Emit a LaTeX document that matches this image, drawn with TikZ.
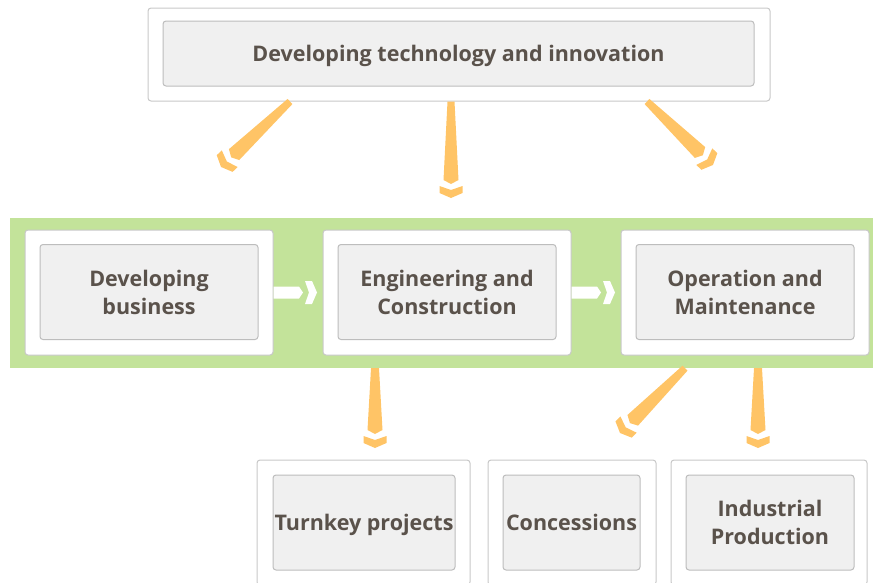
\documentclass[tikz,border=0pt]{standalone}
\usepackage{fontspec}
\setmainfont{Open Sans}
\usepackage{tikz}
\usetikzlibrary{calc}
\definecolor{bandgreen}{HTML}{C3E39A}
\definecolor{arroworange}{HTML}{FFC466}
\definecolor{boxgray}{HTML}{F0F0F0}
\definecolor{edgegray}{HTML}{C8C8C8}
\definecolor{inneredge}{HTML}{BDBDBD}
\definecolor{textbrown}{HTML}{5A524B}
\tikzset{
  outerbox/.style={draw=edgegray, fill=white, rounded corners=3pt, line width=1pt},
  innerbox/.style={draw=inneredge, fill=boxgray, rounded corners=3pt, line width=1pt, inner sep=1pt,
    text depth=0pt, text=textbrown, align=center, font=\bfseries\fontsize{21.5}{28}\selectfont},
}
\newcommand{\flowarrow}[5][arroworange]{
    % Stem that widens towards its pointed end, then the chevron head
    \fill[#1] let \p1=($(#3)-(#2)$), \n1={atan2(\y1,\x1)}, \n2={veclen(\x1,\y1)} in
      [shift={(#2)}, rotate=\n1]
      (0,-#4) -- (\n2-18,-#5) -- (\n2-14,0) -- (\n2-18,#5) -- (0,#4) -- cycle
      (\n2-12,-11.5) -- (\n2-8,0) -- (\n2-12,11.5) -- (\n2-5,11.5) -- (\n2,0) -- (\n2-5,-11.5) -- cycle;
}

\begin{document}
\begin{tikzpicture}[x=1pt, y=-1pt]
  \useasboundingbox (0,0) rectangle (873,582);

  % Draw the top box
  \node[outerbox, minimum width=622, minimum height=93] (techouter) at (459,54.5) {};
  \node[innerbox, minimum width=591, minimum height=65] (tech) at (458.5,53.5) {Developing technology and innovation};

  % Draw the green band with the three stages
  \node[fill=bandgreen, inner sep=0, minimum width=863, minimum height=150] (band) at (441.5,293) {};
  \node[outerbox, minimum width=248, minimum height=125] (devouter) at (149,292.5) {};
  \node[innerbox, minimum width=218, minimum height=95] (dev) at (149,292) {Developing\\business};
  \node[outerbox, minimum width=248, minimum height=125] (engouter) at (447,292.5) {};
  \node[innerbox, minimum width=218, minimum height=95] (eng) at (447,292) {Engineering and\\Construction};
  \node[outerbox, minimum width=248, minimum height=125] (omouter) at (745,292.5) {};
  \node[innerbox, minimum width=218, minimum height=95] (om) at (745,292) {Operation and\\Maintenance};

  % Draw the bottom boxes
  \node[outerbox, minimum width=213, minimum height=125] (turnouter) at (363.5,522.5) {};
  \node[innerbox, minimum width=182, minimum height=95] (turn) at (364,522.5) {Turnkey projects};
  \node[outerbox, minimum width=168, minimum height=125] (concouter) at (572,522.5) {};
  \node[innerbox, minimum width=137, minimum height=95] (conc) at (571.5,522.5) {Concessions};
  \node[outerbox, minimum width=196, minimum height=125] (indouter) at (769,522.5) {};
  \node[innerbox, minimum width=168, minimum height=95] (ind) at (770,522.5) {Industrial\\Production};

  % Arrow tips
  \coordinate (techtipa) at (221,167);
  \coordinate (techtipb) at (451,198);
  \coordinate (techtipc) at (713,165);
  \coordinate (devtip) at (317,292.5);
  \coordinate (engtip) at (615,292.5);
  \coordinate (turntip) at (375,448);
  \coordinate (conctip) at (620,433);
  \coordinate (indtip) at (758,448);

  % Plot the arrows
  \flowarrow{[xshift=-169]techouter.south}{techtipa}{3.5}{7.5}
  \flowarrow{[xshift=-8]techouter.south}{techtipb}{3.5}{7.5}
  \flowarrow{[xshift=188]techouter.south}{techtipc}{3.5}{7.5}
  \flowarrow[white]{devouter.east}{devtip}{6}{6}
  \flowarrow[white]{engouter.east}{engtip}{6}{6}
  \flowarrow{[xshift=-66.5]band.south}{turntip}{4}{7.5}
  \flowarrow{[xshift=243.5]band.south}{conctip}{3.5}{7.5}
  \flowarrow{[xshift=316.5]band.south}{indtip}{4}{7.5}
\end{tikzpicture}
\end{document}
